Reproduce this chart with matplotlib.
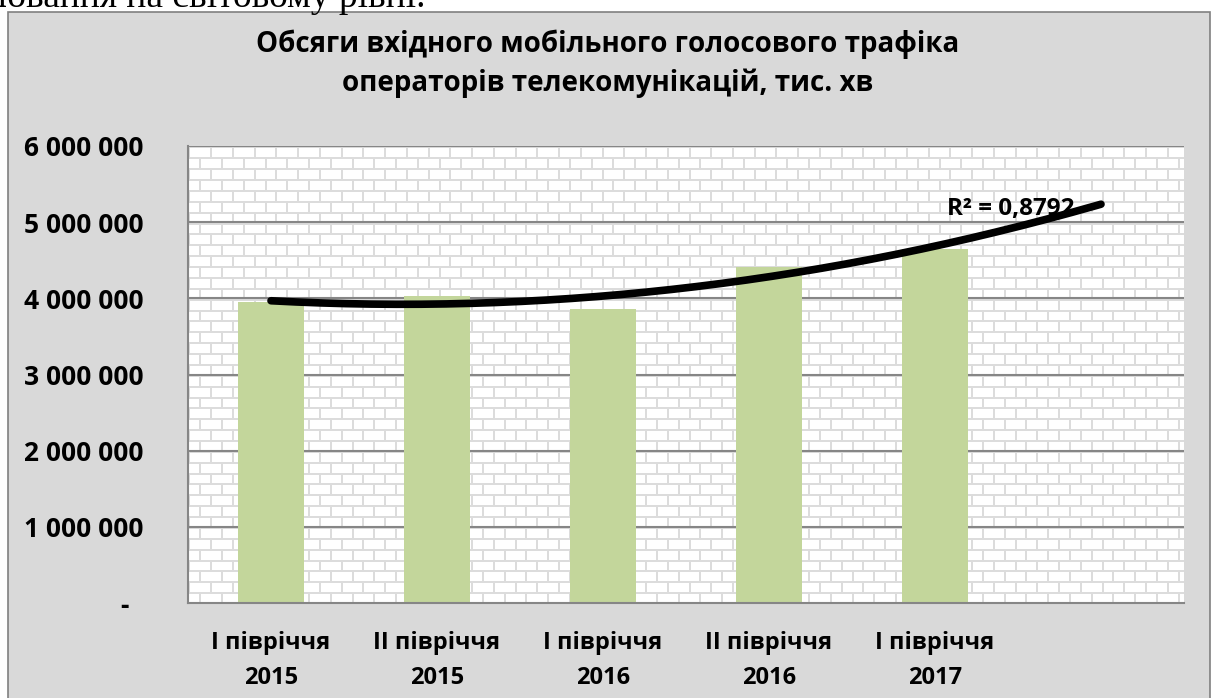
import numpy as np
import matplotlib
matplotlib.use('Agg')
import matplotlib.pyplot as plt
from matplotlib.patches import Rectangle

# data
categories = ['І півріччя\n2015', 'ІІ півріччя\n2015', 'І півріччя\n2016',
              'ІІ півріччя\n2016', 'І півріччя\n2017']
traffic = [3946000, 4025000, 3863000, 4406000, 4652000]
r2_label = 'R² = 0,8792'
title = 'Обсяги вхідного мобільного голосового трафіка\nоператорів телекомунікацій, тис. хв'
y_ticks = [0, 1000000, 2000000, 3000000, 4000000, 5000000, 6000000]
n_slots = 6  # Excel leaves one empty slot for the forecast of the trendline

BAR_COLOR = '#c3d69b'
GRID_COLOR = '#868686'
BOX_COLOR = '#d9d9d9'
FONT = 'Open Sans'

W, H, DPI = 1216, 698, 100


def brick_pattern(w, h, row_h=10.87, brick_w=21.74, line=2.0):
    """Excel-like horizontal brick fill, built pixel by pixel."""
    yy, xx = np.mgrid[0:h, 0:w].astype(float)
    row = np.floor(yy / row_h)
    hline = (yy % row_h) < line
    off = (row % 2) * brick_w / 2
    vline = ((xx + off) % brick_w) < line
    return np.where(hline | vline, 0.86, 1.0)


def fmt_tick(v):
    if v == 0:
        return '-  '
    return f'{int(v):,}'.replace(',', ' ')


fig = plt.figure(figsize=(W / DPI, H / DPI), dpi=DPI, facecolor='white')

# grey chart box, cut at the bottom like a page crop
fig.patches.append(Rectangle((8 / W, -0.01), 1202 / W, 1 - 12 / H + 0.01,
                             transform=fig.transFigure, facecolor=BOX_COLOR,
                             edgecolor='#808080', linewidth=1.2, zorder=-5))

# tail of the page text above the chart
fig.text(-2 / W, 1 - 7 / H, 'ювання на світовому рівні.', family='Liberation Serif',
         fontsize=27, va='baseline', ha='left', color='black')

ax_left, ax_right, ax_top, ax_bottom = 188, 1184, 146, 603
ax = fig.add_axes([ax_left / W, 1 - ax_bottom / H, (ax_right - ax_left) / W,
                   (ax_bottom - ax_top) / H])
ax.set_facecolor('white')

x = np.arange(len(traffic))
ax.set_xlim(-0.5, n_slots - 0.5)
ax.set_ylim(0, 6000000)

ax.imshow(brick_pattern(ax_right - ax_left, ax_bottom - ax_top), cmap='gray',
          vmin=0, vmax=1, extent=(-0.5, n_slots - 0.5, 0, 6000000),
          aspect='auto', interpolation='bilinear', zorder=0)

for v in y_ticks[1:]:
    ax.axhline(v, color=GRID_COLOR, linewidth=1.5, zorder=1)

ax.bar(x, traffic, width=0.4, color=BAR_COLOR, zorder=2)

# polynomial (2nd order) trendline with one period forecast
coef = np.polyfit(x + 1, traffic, 2)
xt = np.linspace(1, n_slots, 200)
ax.plot(xt - 1, np.polyval(coef, xt), color='black', linewidth=5.5,
        solid_capstyle='round', zorder=3)
ax.text(4.07, 5170000, r2_label, family=FONT, fontweight='bold', fontsize=17.5,
        va='center', ha='left', zorder=4)

ax.set_yticks(y_ticks)
ax.set_yticklabels([fmt_tick(v) for v in y_ticks], family=FONT,
                   fontweight='bold', fontsize=19)
ax.set_xticks(x)
ax.set_xticklabels(categories, family=FONT, fontweight='bold', fontsize=17,
                   linespacing=1.65)
ax.tick_params(axis='y', length=0, pad=32)
ax.tick_params(axis='x', length=0, pad=20)

for side in ['top', 'right']:
    ax.spines[side].set_visible(False)
for side in ['left', 'bottom']:
    ax.spines[side].set_color(GRID_COLOR)
    ax.spines[side].set_linewidth(1.5)

fig.text(608 / W, 1 - 64 / H, title, family=FONT, fontweight='bold',
         fontsize=20, ha='center', va='center', linespacing=1.4)

fig.savefig('out.png', dpi=DPI, facecolor='white')
